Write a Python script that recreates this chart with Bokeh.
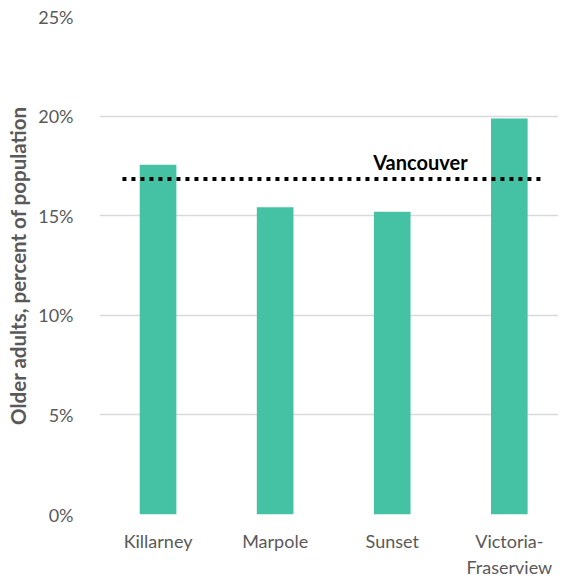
from bokeh.plotting import figure
from bokeh.models import Range1d, FixedTicker, PrintfTickFormatter, Label, ColumnDataSource
from bokeh.embed import file_html
from bokeh.resources import INLINE

# ---- data ----
neighbourhoods = ["Killarney", "Marpole", "Sunset", "Victoria-\nFraserview"]
older_adults_pct = [17.56, 15.43, 15.20, 19.88]
vancouver_pct = 16.84
vancouver_label = "Vancouver"
y_ticks = [0, 5, 10, 15, 20, 25]
y_title = "Older adults, percent of population"

FONT = "Lato"
BAR = "#45C2A4"
GRID = "#D9D9D9"
TXT = "#595959"

idx = list(range(len(neighbourhoods)))
src = ColumnDataSource(dict(x=idx, top=older_adults_pct))

p = figure(width=558, height=582, output_backend="svg", toolbar_location=None,
           x_range=Range1d(-0.5, 3.42), y_range=Range1d(0, 25),
           min_border_left=99, min_border_right=0, min_border_top=16, min_border_bottom=68)
p.outline_line_color = None
p.background_fill_color = "white"
p.border_fill_color = "white"

p.vbar(x="x", top="top", bottom=0, width=0.313, source=src, fill_color=BAR, line_color=None)

p.segment(x0=-0.304, x1=3.292, y0=vancouver_pct, y1=vancouver_pct,
          line_color="black", line_width=4, line_dash="4 5", line_cap="butt")
p.add_layout(Label(x=2.241, y=vancouver_pct + 0.88, text=vancouver_label, text_align="center",
                   text_baseline="alphabetic", text_font=FONT, text_font_style="bold",
                   text_font_size="20px", text_color="black"))

# grid
p.xgrid.visible = False
p.ygrid.grid_line_color = GRID
p.ygrid.grid_line_width = 1.3
p.ygrid.ticker = FixedTicker(ticks=y_ticks)

# y axis
ya = p.yaxis[0]
ya.ticker = FixedTicker(ticks=y_ticks)
ya.formatter = PrintfTickFormatter(format="%d%%")
ya.axis_line_color = None
ya.major_tick_line_color = None
ya.minor_tick_line_color = None
ya.major_label_standoff = 20
ya.major_label_text_font = FONT
ya.major_label_text_font_size = "18px"
ya.major_label_text_color = TXT
ya.axis_label = y_title
ya.axis_label_text_font = FONT
ya.axis_label_text_font_style = "bold"
ya.axis_label_text_font_size = "20.5px"
ya.axis_label_text_color = TXT
ya.axis_label_standoff = 5

# x axis
xa = p.xaxis[0]
xa.ticker = FixedTicker(ticks=idx)
xa.major_label_overrides = {i: n for i, n in zip(idx, neighbourhoods)}
xa.axis_line_color = None
xa.major_tick_line_color = None
xa.minor_tick_line_color = None
xa.major_label_standoff = 9
xa.major_label_text_font = FONT
xa.major_label_text_font_size = "18px"
xa.major_label_text_line_height = 1.2
xa.major_label_text_color = TXT

open("out.html", "w").write(file_html(p, INLINE))
